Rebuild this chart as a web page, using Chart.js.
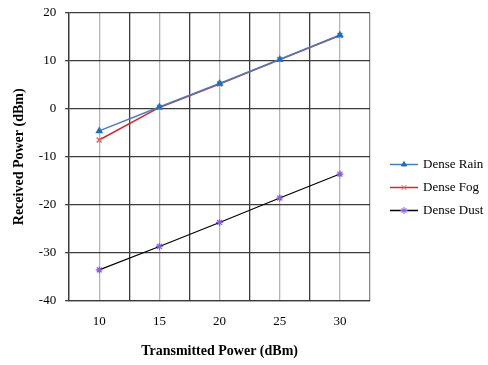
<!DOCTYPE html>
<html>
<head>
<meta charset="utf-8">
<script src="https://cdn.jsdelivr.net/npm/chart.js@4"></script>
<style>
  html, body { margin: 0; padding: 0; background: #fff; }
  #wrap { width: 488px; height: 365px; position: relative; }
</style>
</head>
<body>
<div id="wrap"><canvas id="grafico"></canvas></div>
<script>
// potencia transmitida (dBm)
const potencias = [10, 15, 20, 25, 30];
// potencia recebida (dBm) por condicao
const chuva = [-4.6, 0.4, 5.3, 10.3, 15.4];
const neblina = [-6.5, 0.3, 5.2, 10.3, 15.3];
const poeira = [-33.6, -28.7, -23.7, -18.6, -13.6];
const nomes = ['Dense Rain', 'Dense Fog', 'Dense Dust'];

const serif = '"Liberation Serif", "Times New Roman", serif';

function pontos(valores) {
  return potencias.map((x, i) => ({ x: x, y: valores[i] }));
}

// legenda desenhada a mao: linha + marcador + texto
const legendaLinha = {
  id: 'legendaLinha',
  afterDraw(chart) {
    const ctx = chart.ctx;
    const x0 = chart.chartArea.right + 20;
    const yc = chart.height / 2 + 5;
    const gap = 23;
    chart.data.datasets.forEach((ds, i) => {
      const y = yc + (i - 1) * gap;
      ctx.save();
      ctx.strokeStyle = ds.borderColor;
      ctx.lineWidth = 1.5;
      ctx.beginPath();
      ctx.moveTo(x0, y);
      ctx.lineTo(x0 + 28, y);
      ctx.stroke();
      ctx.strokeStyle = ds.pointBorderColor;
      ctx.fillStyle = ds.pointBorderColor;
      ctx.lineWidth = 1;
      Chart.helpers.drawPoint(ctx, {
        pointStyle: ds.pointStyle,
        radius: ds.pointRadius,
        rotation: 0,
        borderWidth: 1
      }, x0 + 14, y);
      ctx.fillStyle = '#000';
      ctx.font = '13px ' + serif;
      ctx.textBaseline = 'middle';
      ctx.fillText(ds.label, x0 + 33, y);
      ctx.restore();
    });
  }
};

new Chart(document.getElementById('grafico'), {
  type: 'line',
  data: {
    datasets: [
      {
        label: nomes[0],
        data: pontos(chuva),
        borderColor: '#4a7ebb',
        backgroundColor: '#1f6fc0',
        pointStyle: 'triangle',
        pointRadius: 3,
        pointBorderColor: '#1f6fc0',
        pointBackgroundColor: '#1f6fc0',
        borderWidth: 1.5,
        tension: 0
      },
      {
        label: nomes[1],
        data: pontos(neblina),
        borderColor: '#d02a30',
        backgroundColor: '#e0606a',
        pointStyle: 'crossRot',
        pointRadius: 3.5,
        pointBorderColor: '#e0606a',
        borderWidth: 1.5,
        tension: 0
      },
      {
        label: nomes[2],
        data: pontos(poeira),
        borderColor: '#000000',
        backgroundColor: '#8a5ae0',
        pointStyle: 'star',
        pointRadius: 3.5,
        pointBorderColor: '#8a5ae0',
        borderWidth: 1.2,
        tension: 0
      }
    ]
  },
  options: {
    responsive: true,
    maintainAspectRatio: false,
    animation: false,
    layout: {
      padding: { left: 11, right: 118, top: 13, bottom: 5 }
    },
    plugins: {
      legend: { display: false },
      tooltip: { enabled: false }
    },
    scales: {
      x: {
        type: 'linear',
        min: 7.5,
        max: 32.5,
        ticks: {
          stepSize: 2.5,
          autoSkip: false,
          maxRotation: 0,
          color: '#000',
          padding: 13,
          font: { family: serif, size: 13 },
          callback: (v) => (v % 5 === 0 ? v : '')
        },
        grid: {
          drawTicks: false,
          lineWidth: 1.3,
          color: (c) => (c.tick && c.tick.value % 5 === 0 ? '#b4b4b4' : (c.tick && c.tick.value === 32.5 ? '#8a8a8a' : '#3c3c3c'))
        },
        border: { display: true, color: '#3c3c3c', width: 1.3 },
        title: {
          display: true,
          text: 'Transmitted Power (dBm)',
          color: '#000',
          font: { family: serif, size: 14, weight: 'bold' },
          padding: { top: 1, bottom: 0 }
        }
      },
      y: {
        min: -40,
        max: 20,
        afterFit: (escala) => { escala.paddingTop = 0; escala.paddingBottom = 0; },
        ticks: {
          stepSize: 10,
          color: '#000',
          padding: 9,
          font: { family: serif, size: 13 }
        },
        grid: {
          color: '#3c3c3c',
          lineWidth: 1.3,
          tickLength: 4
        },
        border: { display: true, color: '#3c3c3c', width: 1.3 },
        title: {
          display: true,
          text: 'Received Power (dBm)',
          color: '#000',
          font: { family: serif, size: 14, weight: 'bold' },
          padding: { top: 0, bottom: 2 }
        }
      }
    }
  },
  plugins: [legendaLinha]
});
</script>
</body>
</html>
